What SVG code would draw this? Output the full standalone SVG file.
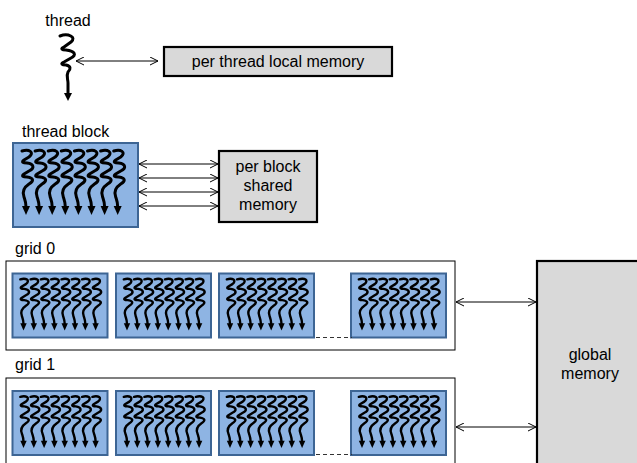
<svg xmlns="http://www.w3.org/2000/svg" xmlns:xlink="http://www.w3.org/1999/xlink" width="637" height="463" viewBox="0 0 637 463">
  <style>
    text { font-family: "Liberation Sans", Arial, sans-serif; font-size: 16px; fill: #000; }
    .mid { text-anchor: middle; }
    .mem { fill: #d9d9d9; stroke: #000; stroke-width: 2.2; }
    .grid { fill: #fff; stroke: #000; stroke-width: 1; }
    .blk { fill: #8eb4e3; stroke: #3d6594; stroke-width: 2; }
    .wire { fill: none; stroke: #000; stroke-width: 1; marker-start: url(#chev); marker-end: url(#chev); }
    .dash { fill: none; stroke: #333; stroke-width: 1.2; stroke-dasharray: 4 3; }
    .thr { fill: none; stroke: #000; stroke-width: 3; stroke-linecap: round; stroke-linejoin: round; }
  </style>
  <defs>
    <marker id="chev" viewBox="0 0 9 9" refX="8.5" refY="4.5" markerWidth="9" markerHeight="9" markerUnits="userSpaceOnUse" orient="auto-start-reverse">
      <path d="M0.5,0.5 L8.5,4.5 L0.5,8.5" fill="none" stroke="#000" stroke-width="1"/>
    </marker>
    <!-- one wavy thread with its arrowhead, 65 units tall -->
    <g id="thr">
      <path class="thr" d="M1,1 C8,-1 14,2 8,7 L3,10 C0,12 2,13 6,13 C13,14 14,18 8,21 L3,24 C0,26 2,27 6,27 C13,28 13,31 8,34 C2,38 1,42 3,47 C4,50 5,52 5,57"/>
      <polygon points="1,56 9,56 5,65" fill="#000"/>
    </g>
    <!-- small block of eight threads used inside the grids -->
    <g id="sblk">
      <rect class="blk" x="0" y="0" width="95" height="64"/>
      <use xlink:href="#thr" transform="translate(7,5) scale(0.8)"/>
      <use xlink:href="#thr" transform="translate(17.3,5) scale(0.8)"/>
      <use xlink:href="#thr" transform="translate(27.6,5) scale(0.8)"/>
      <use xlink:href="#thr" transform="translate(37.9,5) scale(0.8)"/>
      <use xlink:href="#thr" transform="translate(48.2,5) scale(0.8)"/>
      <use xlink:href="#thr" transform="translate(58.5,5) scale(0.8)"/>
      <use xlink:href="#thr" transform="translate(68.8,5) scale(0.8)"/>
      <use xlink:href="#thr" transform="translate(79.1,5) scale(0.8)"/>
    </g>
  </defs>

  <rect width="637" height="463" fill="#fff"/>

  <!-- single thread -->
  <g id="thread">
    <text class="mid" x="68" y="26">thread</text>
    <path class="thr" d="M60,36 C68,33 77,37 71,42 L64,47 C60,49 62,50 66,50 C75,51 77,55 71,58 L64,62 C60,64 62,65 66,65 C71,66 71,69 68,72 C66,76 68,79 68,83 L68,94"/>
    <polygon points="64,93 72,93 68,101" fill="#000"/>
  </g>

  <g id="local-memory">
    <rect class="mem" x="164" y="47" width="228" height="29"/>
    <text class="mid" x="278" y="67">per thread local memory</text>
  </g>

  <!-- thread block -->
  <g id="thread-block">
    <text x="22" y="137">thread block</text>
    <rect class="blk" x="13" y="143" width="125" height="84"/>
    <use xlink:href="#thr" transform="translate(21,150)"/>
    <use xlink:href="#thr" transform="translate(34.1,150)"/>
    <use xlink:href="#thr" transform="translate(47.2,150)"/>
    <use xlink:href="#thr" transform="translate(60.3,150)"/>
    <use xlink:href="#thr" transform="translate(73.4,150)"/>
    <use xlink:href="#thr" transform="translate(86.5,150)"/>
    <use xlink:href="#thr" transform="translate(99.6,150)"/>
    <use xlink:href="#thr" transform="translate(112.7,150)"/>
  </g>

  <g id="shared-memory">
    <rect class="mem" x="219" y="151" width="98" height="71"/>
    <text class="mid" x="268" y="172">per block</text>
    <text class="mid" x="268" y="191">shared</text>
    <text class="mid" x="268" y="210">memory</text>
  </g>

  <!-- grid 0 -->
  <g id="grid0">
    <text x="15" y="254">grid 0</text>
    <rect class="grid" x="6" y="261" width="449" height="89"/>
    <use xlink:href="#sblk" transform="translate(12.5,273.5)"/>
    <use xlink:href="#sblk" transform="translate(116,273.5)"/>
    <use xlink:href="#sblk" transform="translate(219,273.5)"/>
    <use xlink:href="#sblk" transform="translate(351,273.5)"/>
    <path class="dash" d="M316,337.5 H352"/>
  </g>

  <!-- grid 1 -->
  <g id="grid1">
    <text x="15" y="370">grid 1</text>
    <rect class="grid" x="6" y="378" width="449" height="100"/>
    <use xlink:href="#sblk" transform="translate(12.5,391)"/>
    <use xlink:href="#sblk" transform="translate(116,391)"/>
    <use xlink:href="#sblk" transform="translate(219,391)"/>
    <use xlink:href="#sblk" transform="translate(351,391)"/>
    <path class="dash" d="M316,454.5 H352"/>
  </g>

  <g id="global-memory">
    <rect class="mem" x="537" y="261" width="120" height="220"/>
    <text class="mid" x="590" y="360">global</text>
    <text class="mid" x="590" y="379">memory</text>
  </g>

  <!-- connectors -->
  <g id="connectors">
    <path class="wire" d="M76,61 H158"/>
    <path class="wire" d="M139,164 H218"/>
    <path class="wire" d="M139,178 H218"/>
    <path class="wire" d="M139,192 H218"/>
    <path class="wire" d="M139,206 H218"/>
    <path class="wire" d="M456,302 H536"/>
    <path class="wire" d="M456,427 H536"/>
  </g>
</svg>
